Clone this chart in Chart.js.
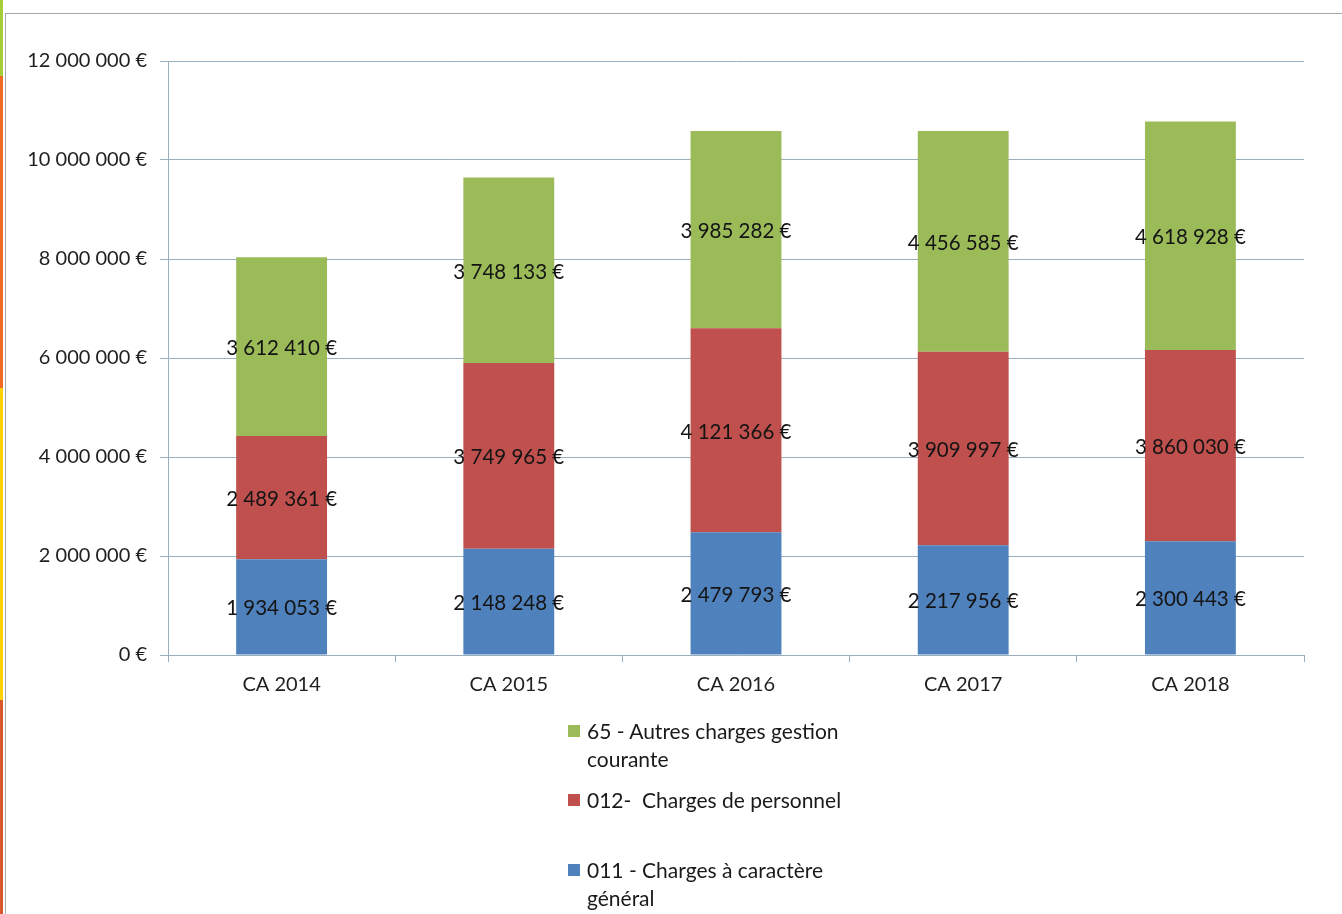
<!DOCTYPE html>
<html>
<head>
<meta charset="utf-8">
<script src="https://cdn.jsdelivr.net/npm/chart.js@4/dist/chart.umd.min.js"></script>
<style>
  html, body { margin: 0; padding: 0; background: #ffffff; }
  #wrap { position: relative; width: 1342px; height: 914px; overflow: hidden; background: #fff; }
  #chartBox { position: absolute; left: 0; top: 0; width: 1342px; height: 914px; }
  .strip { position: absolute; left: 0; width: 3px; }
  #vline { position: absolute; left: 5px; top: 13px; width: 1px; height: 901px; background: #a8a8a8; }
  #hline { position: absolute; left: 5px; top: 13px; right: 0; height: 1px; background: #a8a8a8; }
  #legend { position: absolute; left: 566px; top: 0; width: 360px; font-family: Lato, "Open Sans", sans-serif; font-size: 21px; color: #1a1a1a; }
  .item { position: absolute; left: 0; white-space: pre; line-height: 28px; padding-left: 21px; }
  .sw { position: absolute; left: 2px; top: 8px; width: 12px; height: 12px; }
</style>
</head>
<body>
<div id="wrap">
  <div class="strip" style="top:0;height:76px;background:#a6ce39"></div>
  <div class="strip" style="top:76px;height:312px;background:#f26b23"></div>
  <div class="strip" style="top:388px;height:312px;background:#ffd200"></div>
  <div class="strip" style="top:700px;height:214px;background:#d9572b"></div>
  <div id="vline"></div>
  <div id="hline"></div>
  <div id="chartBox"><canvas id="c"></canvas></div>
  <div id="legend"></div>
</div>
<script>
// ---- data ----
const categories = ["CA 2014", "CA 2015", "CA 2016", "CA 2017", "CA 2018"];
const seriesNames = ["011 - Charges à caractère\ngénéral", "012-  Charges de personnel", "65 - Autres charges gestion\ncourante"];
const charges011 = [1934053, 2148248, 2479793, 2217956, 2300443];
const charges012 = [2489361, 3749965, 4121366, 3909997, 3860030];
const charges65  = [3612410, 3748133, 3985282, 4456585, 4618928];
const yTicks = [0, 2000000, 4000000, 6000000, 8000000, 10000000, 12000000];

const colors = ["#4f81bd", "#c0504d", "#9bbb59"];
const FONT = 'Lato, "Open Sans", sans-serif';
const TEXT = '#1f1f1f';
const GRID = '#98afc0';

function fmt(v) {
  return String(Math.round(v)).replace(/\B(?=(\d{3})+(?!\d))/g, ' ') + ' €';
}

const dataLabels = {
  id: 'dataLabels',
  afterDatasetsDraw(chart) {
    const ctx = chart.ctx;
    ctx.save();
    ctx.font = '20.5px ' + FONT;
    ctx.fillStyle = '#141414';
    ctx.textAlign = 'center';
    ctx.textBaseline = 'middle';
    chart.data.datasets.forEach((ds, i) => {
      const meta = chart.getDatasetMeta(i);
      meta.data.forEach((el, j) => {
        const y = (el.y + el.base) / 2 + 2;
        ctx.fillText(fmt(ds.data[j]), el.x, y);
      });
    });
    ctx.restore();
  }
};

const seriesData = [charges011, charges012, charges65];
const chart = new Chart(document.getElementById('c'), {
  type: 'bar',
  data: {
    labels: categories,
    datasets: seriesNames.map((n, i) => ({
      label: n,
      data: seriesData[i],
      backgroundColor: colors[i],
      borderWidth: 0,
      barPercentage: 0.4,
      categoryPercentage: 1.0
    }))
  },
  options: {
    responsive: true,
    maintainAspectRatio: false,
    animation: false,
    layout: { padding: { top: 61, left: 0, right: 38, bottom: 209 } },
    plugins: { legend: { display: false }, tooltip: { enabled: false } },
    scales: {
      x: {
        stacked: true,
        offset: true,
        grid: { display: true, drawOnChartArea: false, drawTicks: true, tickLength: 7, color: GRID, offset: true },
        border: { display: true, color: GRID, width: 1 },
        ticks: { color: TEXT, font: { family: FONT, size: 20 }, padding: 11 },
        afterFit(s) { s.height = 50; }
      },
      y: {
        stacked: true,
        min: 0,
        max: 12000000,
        afterBuildTicks(s) { s.ticks = yTicks.map(v => ({ value: v })); },
        grid: { color: GRID, tickLength: 8, drawTicks: true },
        border: { display: true, color: GRID, width: 1 },
        ticks: { color: TEXT, font: { family: FONT, size: 20 }, padding: 13, callback: v => fmt(v) },
        afterFit(s) { s.width = 168; }
      }
    }
  },
  plugins: [dataLabels]
});

// ---- HTML legend (reverse order, as in the reference) ----
const legend = document.getElementById('legend');
const tops = [717, 786, 856];
chart.data.datasets.slice().reverse().forEach((ds, k) => {
  const it = document.createElement('div');
  it.className = 'item';
  it.style.top = tops[k] + 'px';
  const sw = document.createElement('span');
  sw.className = 'sw';
  sw.style.background = ds.backgroundColor;
  it.appendChild(sw);
  it.appendChild(document.createTextNode(ds.label));
  legend.appendChild(it);
});
</script>
</body>
</html>
